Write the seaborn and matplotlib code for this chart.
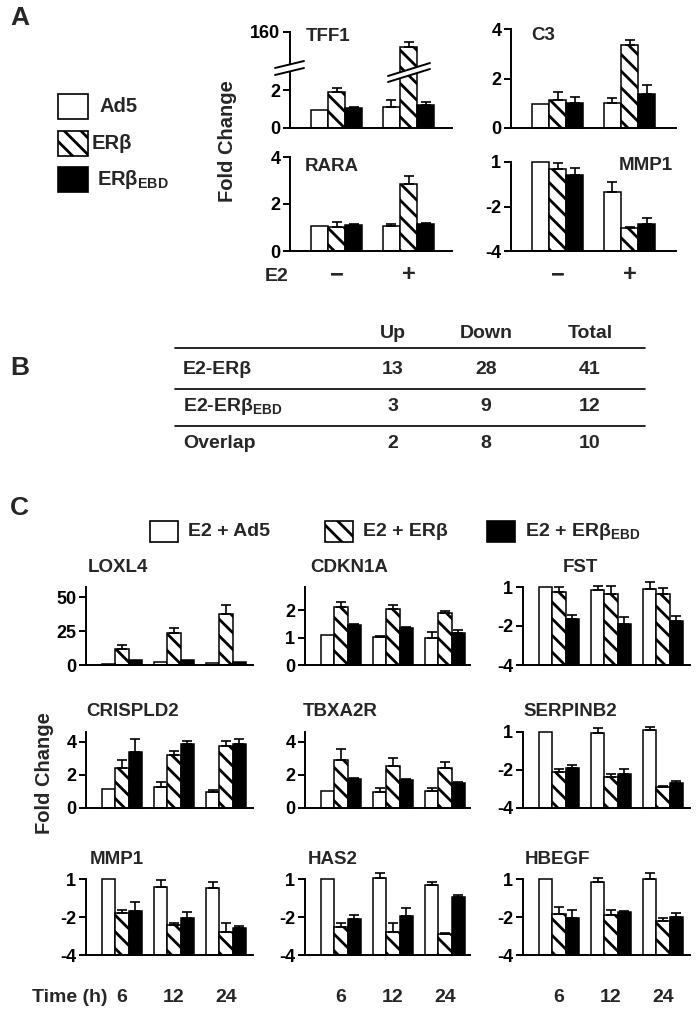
import numpy as np
import pandas as pd
import matplotlib
matplotlib.use("Agg")
import matplotlib.pyplot as plt
import seaborn as sns
from matplotlib.lines import Line2D
from matplotlib.patches import Rectangle, Polygon
from matplotlib.transforms import blended_transform_factory

# ---------------- data ----------------
SERIES = ["Ad5", "ERβ", "ERβEBD"]
e2_labels = ["−", "+"]
time_labels = ["6", "12", "24"]

# Panel A (fold change)
tff1_ad5 = [0.95, 1.1];   tff1_ad5_err = [0.0, 0.37]
tff1_erb = [1.9, 130.0];  tff1_erb_err = [0.2, 10.0]
tff1_ebd = [1.05, 1.2];   tff1_ebd_err = [0.06, 0.15]

c3_ad5 = [0.95, 1.03];    c3_ad5_err = [0.0, 0.17]
c3_erb = [1.13, 3.35];    c3_erb_err = [0.32, 0.2]
c3_ebd = [1.0, 1.37];     c3_ebd_err = [0.25, 0.36]

rara_ad5 = [1.08, 1.08];  rara_ad5_err = [0.0, 0.05]
rara_erb = [1.03, 2.85];  rara_erb_err = [0.22, 0.35]
rara_ebd = [1.1, 1.13];   rara_ebd_err = [0.05, 0.05]

# log2 fold change (axis labelled 1, -2, -4)
mmp1a_ad5 = [0.0, -0.67];   mmp1a_ad5_err = [0.0, 0.22]
mmp1a_erb = [-0.16, -1.48]; mmp1a_erb_err = [0.14, 0.03]
mmp1a_ebd = [-0.29, -1.39]; mmp1a_ebd_err = [0.16, 0.13]

# Panel C
loxl4_ad5 = [1.0, 2.5, 1.5];    loxl4_ad5_err = [0, 0, 0]
loxl4_erb = [12.0, 23.5, 37.5]; loxl4_erb_err = [2.5, 3.5, 6.5]
loxl4_ebd = [3.5, 3.5, 2.0];    loxl4_ebd_err = [0, 0, 0]

cdkn1a_ad5 = [1.1, 1.02, 1.0];  cdkn1a_ad5_err = [0, 0.04, 0.2]
cdkn1a_erb = [2.1, 2.03, 1.88]; cdkn1a_erb_err = [0.18, 0.17, 0.1]
cdkn1a_ebd = [1.45, 1.33, 1.15]; cdkn1a_ebd_err = [0.04, 0.04, 0.14]

fst_ad5 = [0.0, -0.08, -0.05];  fst_ad5_err = [0, 0.1, 0.17]
fst_erb = [-0.13, -0.18, -0.18]; fst_erb_err = [0.12, 0.2, 0.15]
fst_ebd = [-0.82, -0.95, -0.87]; fst_ebd_err = [0.1, 0.18, 0.13]

crispld2_ad5 = [1.15, 1.25, 0.95]; crispld2_ad5_err = [0, 0.35, 0.15]
crispld2_erb = [2.45, 3.2, 3.75];  crispld2_erb_err = [0.45, 0.25, 0.3]
crispld2_ebd = [3.4, 3.85, 3.9];   crispld2_ebd_err = [0.8, 0.2, 0.3]

tbxa2r_ad5 = [1.0, 0.95, 1.05];  tbxa2r_ad5_err = [0, 0.25, 0.18]
tbxa2r_erb = [2.9, 2.55, 2.45];  tbxa2r_erb_err = [0.7, 0.45, 0.35]
tbxa2r_ebd = [1.75, 1.7, 1.5];   tbxa2r_ebd_err = [0.04, 0.05, 0.05]

serpinb2_ad5 = [0.0, -0.03, 0.05];   serpinb2_ad5_err = [0, 0.13, 0.08]
serpinb2_erb = [-1.05, -1.18, -1.45]; serpinb2_erb_err = [0.08, 0.08, 0.03]
serpinb2_ebd = [-0.95, -1.1, -1.34];  serpinb2_ebd_err = [0.08, 0.13, 0.04]

mmp1c_ad5 = [0.0, -0.21, -0.24];  mmp1c_ad5_err = [0, 0.18, 0.16]
mmp1c_erb = [-0.9, -1.21, -1.39]; mmp1c_erb_err = [0.08, 0.05, 0.24]
mmp1c_ebd = [-0.84, -1.03, -1.29]; mmp1c_ebd_err = [0.24, 0.16, 0.05]

has2_ad5 = [0.0, 0.03, -0.16];    has2_ad5_err = [0, 0.13, 0.08]
has2_erb = [-1.26, -1.39, -1.45]; has2_erb_err = [0.1, 0.24, 0.02]
has2_ebd = [-1.05, -0.97, -0.47]; has2_ebd_err = [0.1, 0.21, 0.05]

hbegf_ad5 = [0.0, -0.08, 0.0];    hbegf_ad5_err = [0, 0.1, 0.16]
hbegf_erb = [-0.92, -0.95, -1.1]; hbegf_erb_err = [0.18, 0.13, 0.08]
hbegf_ebd = [-1.03, -0.87, -1.0]; hbegf_ebd_err = [0.21, 0.03, 0.1]

# Panel B table
table_cols = ["Up", "Down", "Total"]
table_rows = ["E2-ERβ", "E2-ERβ$_{\\mathrm{EBD}}$", "Overlap"]
table_up = [13, 3, 2]
table_down = [28, 9, 8]
table_total = [41, 12, 10]

log_ticks = [-2, -1, 0]
log_labels = ["-4", "-2", "1"]

# ---------------- style ----------------
sns.set_theme(style="ticks")
plt.rcParams.update({
    "font.family": ["Liberation Sans", "DejaVu Sans"],
    "font.weight": "bold",
    "hatch.linewidth": 2.0,
    "hatch.color": "black",
    "mathtext.fontset": "custom",
    "mathtext.rm": "Liberation Sans:bold",
    "mathtext.it": "Liberation Sans:bold",
    "mathtext.bf": "Liberation Sans:bold",
    "axes.linewidth": 1.4,
})
COLORS = ["white", "white", "black"]
HATCH = "\\\\"
FS_TICK = 13
FS_TITLE = 13.5

W, H = 697, 1014
fig = plt.figure(figsize=(W / 100, H / 100), dpi=100)


def add_ax(l, t, r, b):
    return fig.add_axes([l / W, 1 - b / H, (r - l) / W, (b - t) / H])


def P(x, y):
    return (x / W, 1 - y / H)


def ftext(x, y, s, **kw):
    kw.setdefault("fontweight", "bold")
    fig.text(x / W, 1 - y / H, s, **kw)


def bars(ax, groups, vals, errs, width, shift=0.0, clip=True):
    rows = []
    for s, v in zip(SERIES, vals):
        for g, val in zip(groups, v):
            rows.append({"group": g, "series": s, "value": val + shift})
    df = pd.DataFrame(rows)
    sns.barplot(data=df, x="group", y="value", hue="series", order=groups,
                hue_order=SERIES, palette=COLORS, width=width, errorbar=None,
                edgecolor="black", linewidth=1.1, legend=False, ax=ax,
                saturation=1)
    for cont, s, e in zip(ax.containers, SERIES, errs):
        blist = sorted(list(cont), key=lambda b: b.get_x())
        for bar, err in zip(blist, e):
            bar.set_clip_on(clip)
            if s == "ERβ":
                bar.set_hatch(HATCH)
            if err > 0:
                top = bar.get_y() + bar.get_height()
                eb = ax.errorbar(bar.get_x() + bar.get_width() / 2, top,
                                 yerr=[[0], [err]], fmt="none", ecolor="black",
                                 elinewidth=1.2, capsize=3.3, capthick=1.2, zorder=3)
                for ch in eb.get_children():
                    ch.set_clip_on(clip)


def style(ax, l, r, lead, sp, ylim, ticks, labels):
    ax.set_xlim(-lead / sp, (r - l - lead) / sp)
    ax.set_ylim(*ylim)
    ax.set_yticks(ticks)
    ax.set_yticklabels(labels, fontsize=FS_TICK, fontweight="bold")
    ax.set_xticks([])
    ax.set_xlabel("")
    ax.set_ylabel("")
    sns.despine(ax=ax)
    ax.tick_params(axis="y", length=5, width=1.4, pad=2, colors="black")
    for sp_ in ax.spines.values():
        sp_.set_color("black")
    ax.set_facecolor("none")


# ---------------- Panel A ----------------
LEAD_A, SP_A, BW_A = 46.5, 72, 0.71

# TFF1 broken axis
axl = add_ax(290, 72, 452, 128)
axu = add_ax(290, 32, 452, 72)
for a in (axl, axu):
    bars(a, e2_labels, [tff1_ad5, tff1_erb, tff1_ebd],
         [tff1_ad5_err, tff1_erb_err, tff1_ebd_err], BW_A, clip=True)
style(axl, 290, 452, LEAD_A, SP_A, (0, 2.95), [0, 2], ["0", "2"])
style(axu, 290, 452, LEAD_A, SP_A, (80, 160), [160], ["160"])
axu.spines["bottom"].set_visible(False)
axu.text(0.1, 0.88, "TFF1", transform=axu.transAxes, fontsize=FS_TITLE,
         fontweight="bold", va="center")
# break marks
for (x0, x1, y0, y1, g) in [(275, 304, 75, 68, 7), (388, 430, 82, 69, 6)]:
    poly = Polygon([P(x0, y0 - g), P(x1, y1 - g), P(x1, y1), P(x0, y0)],
                   closed=True, transform=fig.transFigure, facecolor="white",
                   edgecolor="none", zorder=10)
    fig.add_artist(poly)
    for dy in (0, -g):
        fig.add_artist(Line2D([x0 / W, x1 / W], [1 - (y0 + dy) / H, 1 - (y1 + dy) / H],
                              transform=fig.transFigure, color="black", lw=1.4, zorder=11))

# C3
ax = add_ax(511, 29, 676, 128)
bars(ax, e2_labels, [c3_ad5, c3_erb, c3_ebd], [c3_ad5_err, c3_erb_err, c3_ebd_err], BW_A, clip=False)
style(ax, 511, 676, LEAD_A, SP_A, (0, 4), [0, 2, 4], ["0", "2", "4"])
ax.text(0.12, 0.93, "C3", transform=ax.transAxes, fontsize=FS_TITLE,
        fontweight="bold", va="center")

# RARA
ax_rara = add_ax(290, 157, 452, 251)
bars(ax_rara, e2_labels, [rara_ad5, rara_erb, rara_ebd],
     [rara_ad5_err, rara_erb_err, rara_ebd_err], BW_A, clip=False)
style(ax_rara, 290, 452, LEAD_A, SP_A, (0, 4), [0, 2, 4], ["0", "2", "4"])
ax_rara.text(0.09, 0.9, "RARA", transform=ax_rara.transAxes, fontsize=FS_TITLE,
             fontweight="bold", va="center")

# MMP1 (A)
ax_mmp = add_ax(511, 162, 676, 251)
bars(ax_mmp, e2_labels, [mmp1a_ad5, mmp1a_erb, mmp1a_ebd],
     [mmp1a_ad5_err, mmp1a_erb_err, mmp1a_ebd_err], BW_A, shift=2, clip=False)
style(ax_mmp, 511, 676, LEAD_A, SP_A, (0, 2),
      [t + 2 for t in log_ticks], log_labels)
ax_mmp.text(0.65, 0.96, "MMP1", transform=ax_mmp.transAxes, fontsize=FS_TITLE,
            fontweight="bold", va="center")

# E2 row
ftext(265, 276, "E2", fontsize=14, va="center", ha="left")
for a in (ax_rara, ax_mmp):
    tr = blended_transform_factory(a.transData, fig.transFigure)
    for i, lab in enumerate(e2_labels):
        a.text(i, 1 - 275 / H, lab, transform=tr, ha="center", va="center",
               fontsize=17, fontweight="bold")

ftext(228, 141, "Fold Change", rotation=90, ha="center", va="center", fontsize=14.5)

# Legend A
leg_y = [(94, 119), (131, 156), (167, 192)]
leg_txt = [("Ad5", 100), ("ERβ", 92), ("ERβ$_{\\mathrm{EBD}}$", 97)]
for (y0, y1), c, h, (t, tx) in zip(leg_y, COLORS, ["", HATCH, ""], leg_txt):
    fig.add_artist(Rectangle(P(58, y1), 30 / W, (y1 - y0) / H, transform=fig.transFigure,
                             facecolor=c, edgecolor="black", lw=1.2, hatch=h))
    ftext(tx, (y0 + y1) / 2, t, fontsize=14.5, va="center", ha="left")

ftext(10, 18, "A", fontsize=19, va="center")

# ---------------- Panel B ----------------
ftext(10, 368, "B", fontsize=19, va="center")
col_x = [393, 486, 590]
head_y = 333
row_y = [370, 407, 444]
for x, c in zip(col_x, table_cols):
    ftext(x, head_y, c, fontsize=14, ha="center", va="center")
for y, r, a, b, c in zip(row_y, table_rows, table_up, table_down, table_total):
    ftext(183, y, r, fontsize=14, ha="left", va="center")
    for x, v in zip(col_x, (a, b, c)):
        ftext(x, y, str(v), fontsize=14, ha="center", va="center")
for y in (348, 389, 426):
    fig.add_artist(Line2D([175 / W, 645 / W], [1 - y / H, 1 - y / H],
                          transform=fig.transFigure, color="black", lw=1.2))

# ---------------- Panel C ----------------
ftext(10, 508, "C", fontsize=19, va="center")
legC = [(150, "E2 + Ad5"), (325, "E2 + ERβ"), (487, "E2 + ERβ$_{\\mathrm{EBD}}$")]
for (x0, t), c, h in zip(legC, COLORS, ["", HATCH, ""]):
    fig.add_artist(Rectangle(P(x0, 542), 28 / W, 21 / H, transform=fig.transFigure,
                             facecolor=c, edgecolor="black", lw=1.2, hatch=h))
    ftext(x0 + 38, 532, t, fontsize=14, va="center", ha="left")

LEAD_C, SP_C, BW_C = 36, 52, 0.77
cols = [(86, 253), (305, 470), (523, 690)]
rows = [(587, 665), (732, 808), (879, 955)]

panels = [
    ("LOXL4", [loxl4_ad5, loxl4_erb, loxl4_ebd], [loxl4_ad5_err, loxl4_erb_err, loxl4_ebd_err],
     0, (0, 57.4), [0, 25, 50], ["0", "25", "50"]),
    ("CDKN1A", [cdkn1a_ad5, cdkn1a_erb, cdkn1a_ebd], [cdkn1a_ad5_err, cdkn1a_erb_err, cdkn1a_ebd_err],
     0, (0, 2.84), [0, 1, 2], ["0", "1", "2"]),
    ("FST", [fst_ad5, fst_erb, fst_ebd], [fst_ad5_err, fst_erb_err, fst_ebd_err],
     2, (0, 2), [t + 2 for t in log_ticks], log_labels),
    ("CRISPLD2", [crispld2_ad5, crispld2_erb, crispld2_ebd], [crispld2_ad5_err, crispld2_erb_err, crispld2_ebd_err],
     0, (0, 4.6), [0, 2, 4], ["0", "2", "4"]),
    ("TBXA2R", [tbxa2r_ad5, tbxa2r_erb, tbxa2r_ebd], [tbxa2r_ad5_err, tbxa2r_erb_err, tbxa2r_ebd_err],
     0, (0, 4.6), [0, 2, 4], ["0", "2", "4"]),
    ("SERPINB2", [serpinb2_ad5, serpinb2_erb, serpinb2_ebd], [serpinb2_ad5_err, serpinb2_erb_err, serpinb2_ebd_err],
     2, (0, 2), [t + 2 for t in log_ticks], log_labels),
    ("MMP1", [mmp1c_ad5, mmp1c_erb, mmp1c_ebd], [mmp1c_ad5_err, mmp1c_erb_err, mmp1c_ebd_err],
     2, (0, 2), [t + 2 for t in log_ticks], log_labels),
    ("HAS2", [has2_ad5, has2_erb, has2_ebd], [has2_ad5_err, has2_erb_err, has2_ebd_err],
     2, (0, 2), [t + 2 for t in log_ticks], log_labels),
    ("HBEGF", [hbegf_ad5, hbegf_erb, hbegf_ebd], [hbegf_ad5_err, hbegf_erb_err, hbegf_ebd_err],
     2, (0, 2), [t + 2 for t in log_ticks], log_labels),
]
title_dx = [2, 5, 40, 0, -2, 0, 4, 3, 2]
bottom_axes = []
for k, (name, vals, errs, shift, ylim, ticks, labels) in enumerate(panels):
    r, c = divmod(k, 3)
    l, rr = cols[c]
    t, b = rows[r]
    ax = add_ax(l, t, rr, b)
    bars(ax, time_labels, vals, errs, BW_C, shift=shift, clip=False)
    style(ax, l, rr, LEAD_C, SP_C, ylim, ticks, labels)
    ftext(l + title_dx[k], t - 20, name, fontsize=FS_TITLE, va="center", ha="left")
    if r == 2:
        bottom_axes.append(ax)

ftext(45, 773, "Fold Change", rotation=90, ha="center", va="center", fontsize=14.5)

ftext(108, 997, "Time (h)", fontsize=14, ha="right", va="center")
for a in bottom_axes:
    tr = blended_transform_factory(a.transData, fig.transFigure)
    for i, lab in enumerate(time_labels):
        a.text(i, 1 - 997 / H, lab, transform=tr, ha="center", va="center",
               fontsize=14, fontweight="bold")

fig.savefig("out.png", dpi=100, facecolor="white")
